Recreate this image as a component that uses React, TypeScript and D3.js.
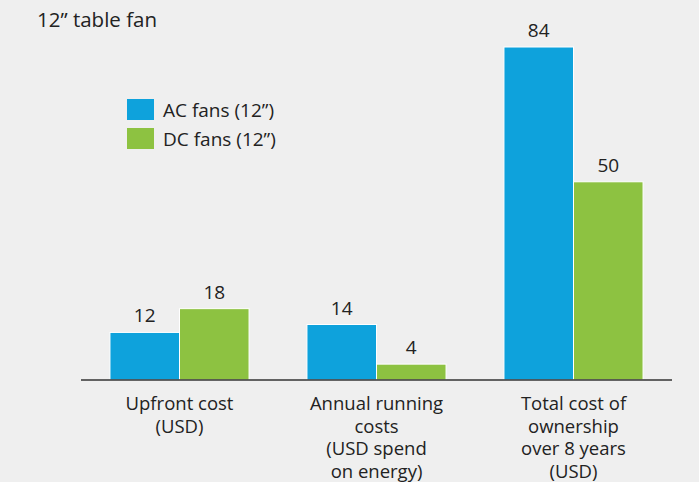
import React from "react";
import * as d3 from "d3";

const categories: string[][] = [
  ["Upfront cost", "(USD)"],
  ["Annual running", "costs", "(USD spend", "on energy)"],
  ["Total cost of", "ownership", "over 8 years", "(USD)"],
];
const seriesNames = ["AC fans (12\u201d)", "DC fans (12\u201d)"];
const acValues = [12, 14, 84];
const dcValues = [18, 4, 50];
const title = "12\u201d table fan";

const W = 699;
const H = 482;
const colors = ["#0ea2dc", "#8dc241"];
const FONT = "'Open Sans', 'Liberation Sans', Arial, sans-serif";

export default function App() {
  const x = d3
    .scaleBand<number>()
    .domain(categories.map((_, i) => i))
    .range([81, 672])
    .paddingInner(0.294)
    .paddingOuter(0.147);
  const x1 = d3.scaleBand<number>().domain([0, 1]).range([0, x.bandwidth()]);
  const y = d3.scaleLinear().domain([0, 84]).range([380, 47]);
  const series = [acValues, dcValues];

  return (
    <svg
      width={W}
      height={H}
      style={{ position: "absolute", left: 0, top: 0, display: "block" }}
      fontFamily={FONT}
    >
      <rect x={0} y={0} width={W} height={H} fill="#efefef" />
      <text x={37} y={27} fontSize={20.5} fill="#222">
        {title}
      </text>
      {seriesNames.map((n, i) => (
        <g key={n}>
          <rect x={127} y={99 + i * 29} width={27} height={21} fill={colors[i]} />
          <text x={163} y={117 + i * 29} fontSize={19} fill="#222">
            {n}
          </text>
        </g>
      ))}
      {series.map((vals, s) =>
        vals.map((v, i) => {
          const bx = (x(i) as number) + (x1(s) as number);
          const bw = x1.bandwidth();
          return (
            <g key={`${s}-${i}`}>
              <rect
                x={bx}
                y={y(v)}
                width={bw}
                height={y(0) - y(v)}
                fill={colors[s]}
                stroke="#ffffff"
                strokeWidth={1}
              />
              <text
                x={bx + bw / 2}
                y={y(v) - 10}
                textAnchor="middle"
                fontSize={19}
                fill="#222"
              >
                {v}
              </text>
            </g>
          );
        })
      )}
      <line x1={81} x2={672} y1={380} y2={380} stroke="#333" strokeWidth={1.5} />
      {categories.map((lines, i) => (
        <text
          key={i}
          x={(x(i) as number) + x.bandwidth() / 2}
          textAnchor="middle"
          fontSize={18.5}
          fill="#222"
        >
          {lines.map((l, j) => (
            <tspan key={j} x={(x(i) as number) + x.bandwidth() / 2} y={410 + j * 22.5}>
              {l}
            </tspan>
          ))}
        </text>
      ))}
    </svg>
  );
}
